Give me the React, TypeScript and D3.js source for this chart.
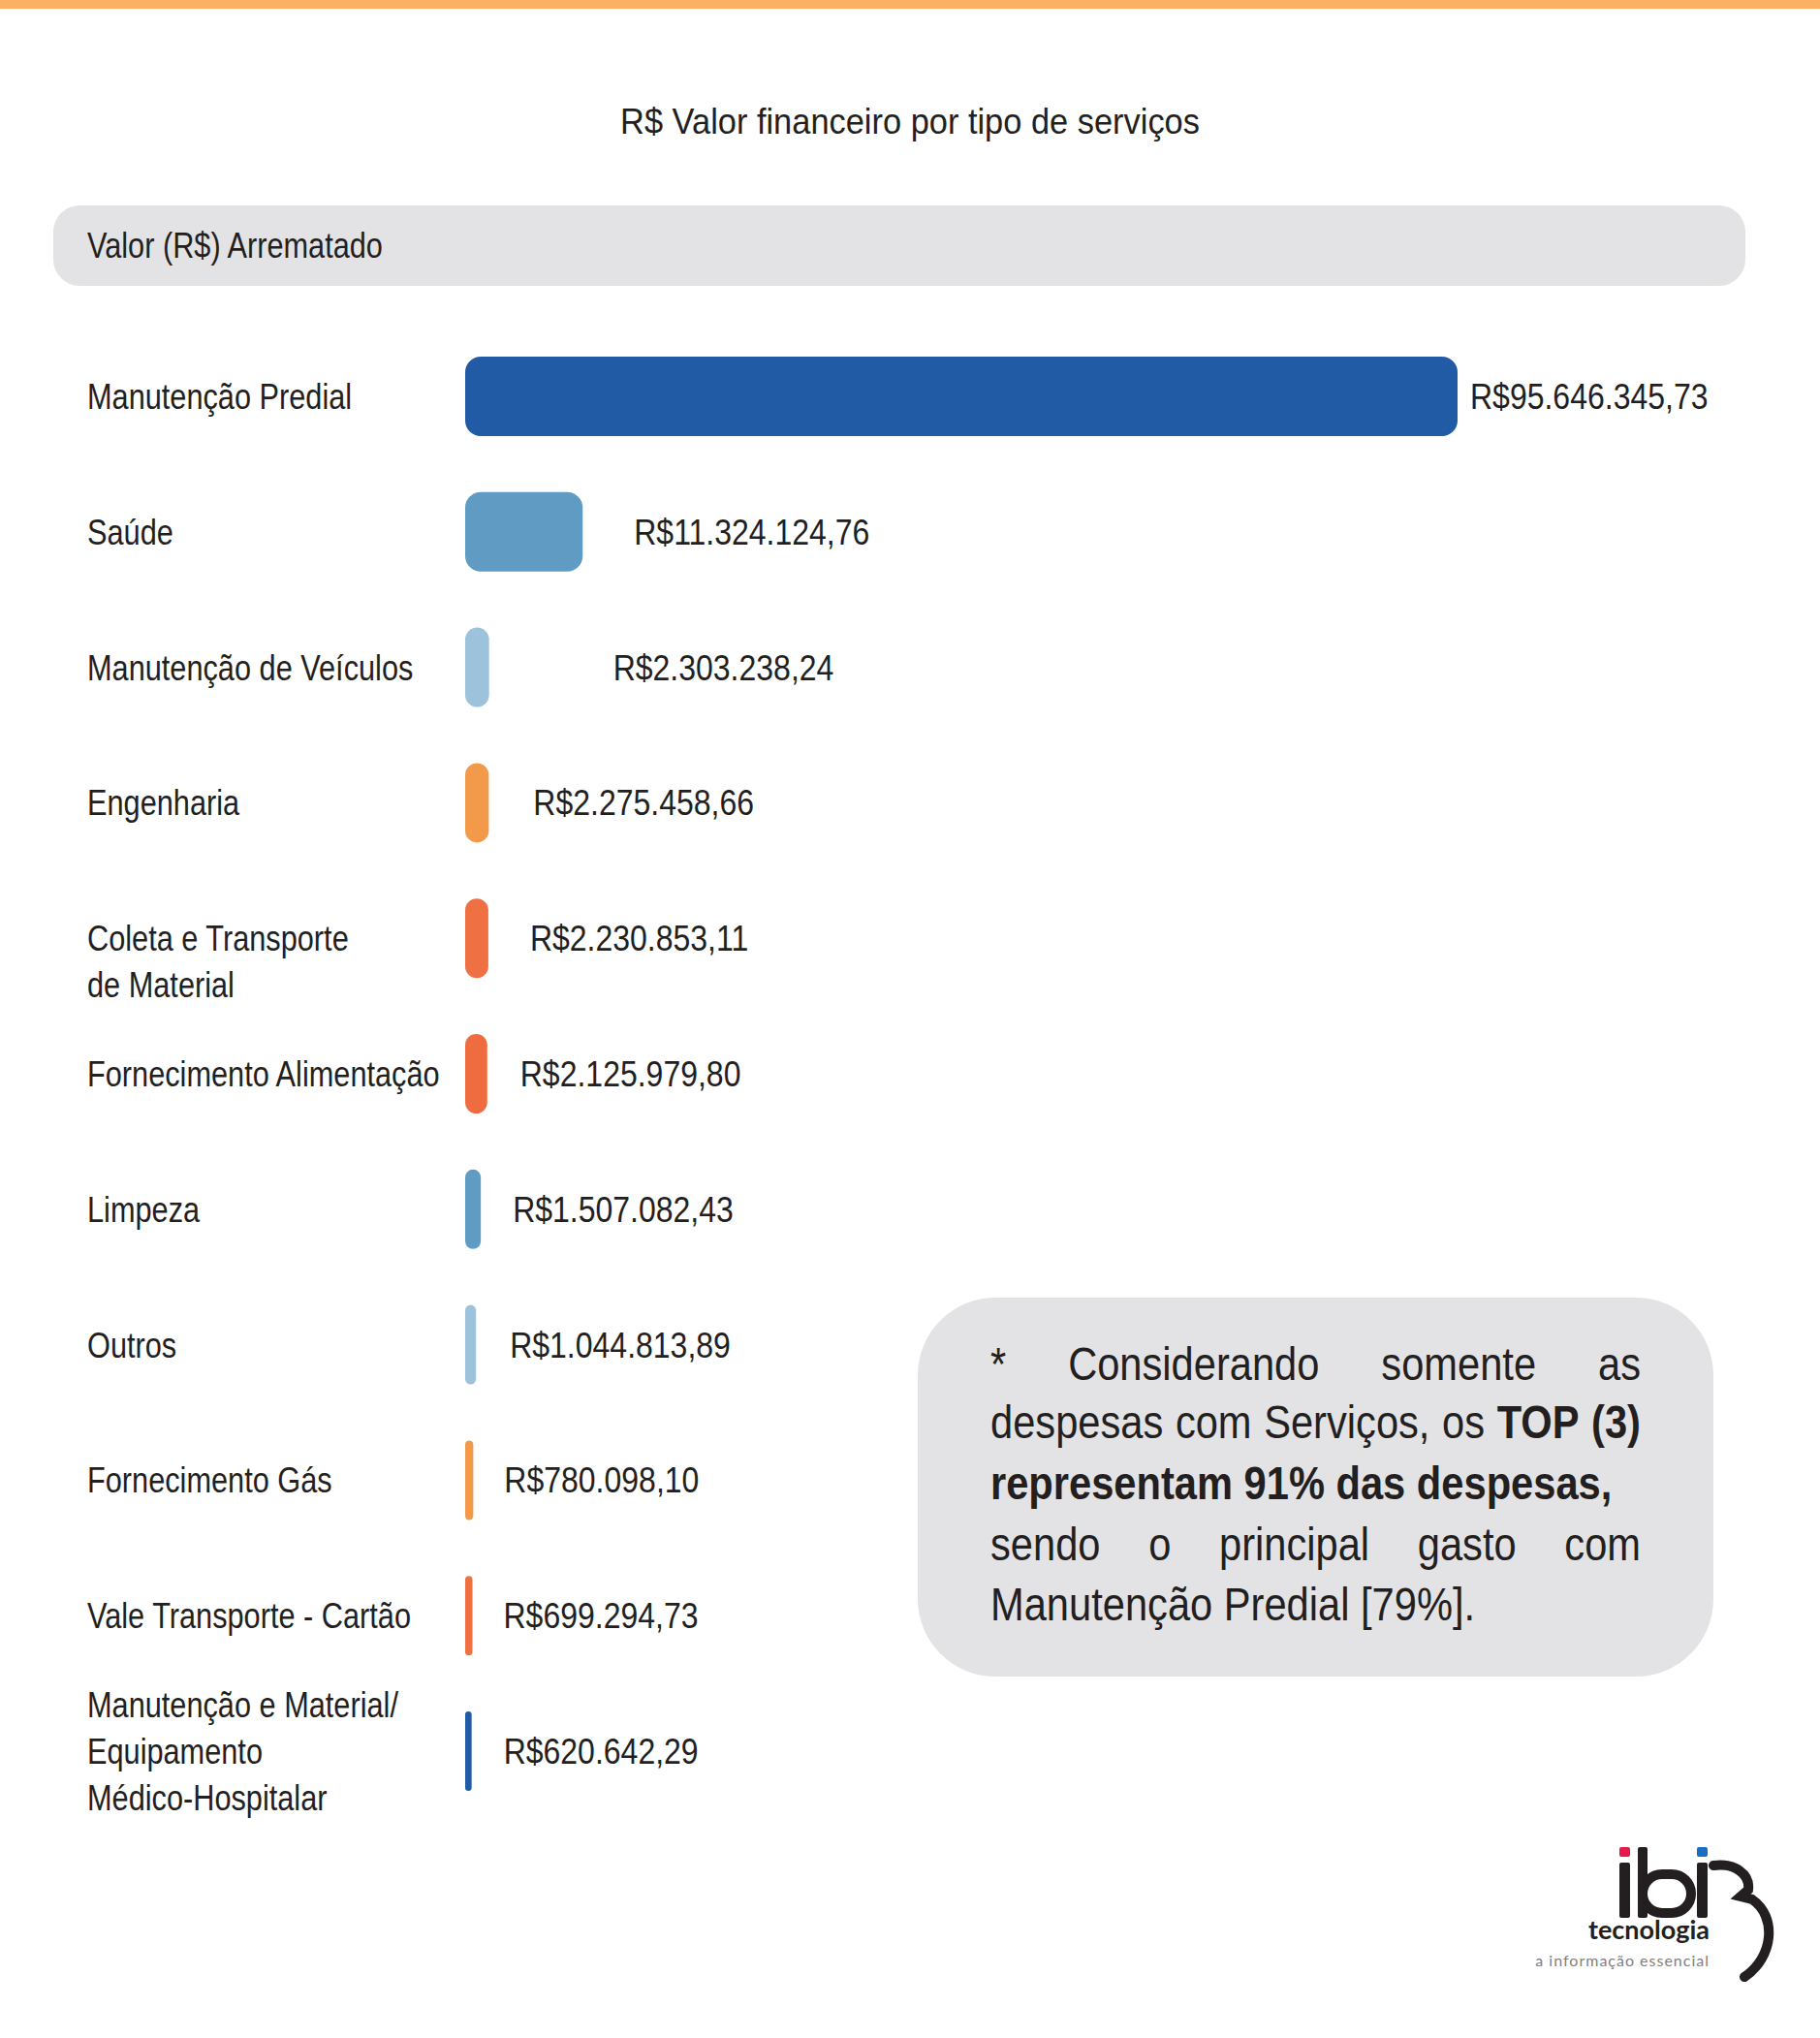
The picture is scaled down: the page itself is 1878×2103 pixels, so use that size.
import React, { useEffect, useRef } from "react";
import * as d3 from "d3";

const chartTitle = "R$ Valor financeiro por tipo de serviços";
const headerLabel = "Valor (R$) Arrematado";

const categories = [
  "Manutenção Predial",
  "Saúde",
  "Manutenção de Veículos",
  "Engenharia",
  "Coleta e Transporte\nde Material",
  "Fornecimento Alimentação",
  "Limpeza",
  "Outros",
  "Fornecimento Gás",
  "Vale Transporte - Cartão",
  "Manutenção e Material/\nEquipamento\nMédico-Hospitalar",
];

const values = [
  95646345.73, 11324124.76, 2303238.24, 2275458.66, 2230853.11, 2125979.8,
  1507082.43, 1044813.89, 780098.1, 699294.73, 620642.29,
];

const barColors = [
  "#215AA5", "#5F9BC2", "#9DC3DC", "#F3994A", "#EF7043", "#EF6C40",
  "#5F9BC2", "#9DC3DC", "#F3994A", "#EF7043", "#215AA5",
];

// layout: gap between bar end and its value label (px)
const valueLabelGaps = [13, 53, 128, 46, 43, 34, 33, 35, 32, 32, 33];

type Word = { t: string; b?: boolean };
const noteLines: { words: Word[]; justify: boolean }[] = [
  { words: [{ t: "*" }, { t: "Considerando" }, { t: "somente" }, { t: "as" }], justify: true },
  {
    words: [{ t: "despesas" }, { t: "com" }, { t: "Serviços," }, { t: "os" }, { t: "TOP", b: true }, { t: "(3)", b: true }],
    justify: true,
  },
  { words: [{ t: "representam", b: true }, { t: "91%", b: true }, { t: "das", b: true }, { t: "despesas,", b: true }], justify: false },
  { words: [{ t: "sendo" }, { t: "o" }, { t: "principal" }, { t: "gasto" }, { t: "com" }], justify: true },
  { words: [{ t: "Manutenção" }, { t: "Predial" }, { t: "[79%]." }], justify: false },
];

const W = 1878;
const H = 2103;
const FONT = "'Liberation Sans', Arial, Helvetica, sans-serif";
const INK = "#231F20";
const SX = 0.83; // horizontal squeeze to mimic condensed face
const SX_VAL = 0.865;
const SX_TITLE = 0.93;
const SX_NOTE = 0.85;

export default function App() {
  const ref = useRef<SVGSVGElement>(null);

  useEffect(() => {
    const svg = d3.select(ref.current);
    svg.selectAll("*").remove();

    const txt = (
      parent: any,
      s: string,
      x: number,
      y: number,
      size: number,
      sx = SX,
      anchor = "start",
      weight = "normal",
      fill = INK
    ) =>
      parent
        .append("text")
        .attr("transform", `translate(${x},${y}) scale(${sx},1)`)
        .attr("text-anchor", anchor)
        .attr("font-family", FONT)
        .attr("font-size", size)
        .attr("font-weight", weight)
        .attr("fill", fill)
        .text(s);

    svg.append("rect").attr("width", W).attr("height", H).attr("fill", "#fff");
    // top stripe
    svg.append("rect").attr("x", 0).attr("y", 0).attr("width", W).attr("height", 9).attr("fill", "#FCB064");

    // title
    txt(svg, chartTitle, 939, 138, 37, SX_TITLE, "middle");

    // header band
    svg.append("rect").attr("x", 55).attr("y", 212).attr("width", 1746).attr("height", 83).attr("rx", 27).attr("fill", "#E3E3E5");
    txt(svg, headerLabel, 90, 266, 37);

    // scales
    const x = d3.scaleLinear().domain([0, d3.max(values) as number]).range([0, 1024]);
    const y = d3.scalePoint<string>().domain(categories).range([409, 1807]);
    const x0 = 480;
    const barH = 82;

    const locale = d3.formatLocale({ decimal: ",", thousands: ".", grouping: [3], currency: ["R$", ""] });
    const fmt = locale.format("$,.2f");

    const rows = svg.selectAll("g.row").data(categories).enter().append("g").attr("class", "row");
    rows.each(function (cat: string, i: number) {
      const g = d3.select(this);
      const cy = y(cat) as number;
      const w = Math.max(2, x(values[i]));
      const r = Math.min(16, w / 2);
      g.append("rect")
        .attr("x", x0)
        .attr("y", cy - barH / 2)
        .attr("width", w)
        .attr("height", barH)
        .attr("rx", r)
        .attr("ry", r)
        .attr("fill", barColors[i]);
      // category label
      const lines = cat.split("\n");
      const lh = 48;
      const start = -Math.floor((lines.length - 1) / 2) * lh;
      lines.forEach((ln, k) => txt(g, ln, 90, cy + start + k * lh + 13, 37));
      // value label
      txt(g, fmt(values[i]), x0 + w + valueLabelGaps[i], cy + 13, 37, SX_VAL);
    });

    // annotation box
    svg.append("rect").attr("x", 947).attr("y", 1339).attr("width", 821).attr("height", 391).attr("rx", 80).attr("fill", "#E3E3E5");
    const noteX0 = 1022;
    const noteX1 = 1693;
    const noteBase = [1424, 1484, 1547, 1610, 1672];
    const noteSize = 49;
    const ng = svg.append("g");
    const probe = txt(ng, "a a", 0, 0, noteSize, SX_NOTE);
    const probe2 = txt(ng, "aa", 0, 0, noteSize, SX_NOTE);
    const spaceW =
      ((probe.node() as SVGTextElement).getComputedTextLength() - (probe2.node() as SVGTextElement).getComputedTextLength()) * SX_NOTE;
    probe.remove();
    probe2.remove();
    noteLines.forEach((line, li) => {
      const els = line.words.map((wd) => txt(ng, wd.t, 0, noteBase[li], noteSize, SX_NOTE, "start", wd.b ? "bold" : "normal"));
      const widths = els.map((e) => (e.node() as SVGTextElement).getComputedTextLength() * SX_NOTE);
      const total = d3.sum(widths);
      const gap = line.justify && els.length > 1 ? (noteX1 - noteX0 - total) / (els.length - 1) : spaceW;
      let cx = noteX0;
      els.forEach((e, k) => {
        e.attr("transform", `translate(${cx},${noteBase[li]}) scale(${SX_NOTE},1)`);
        cx += widths[k] + gap;
      });
    });

    // logo
    const lg = svg.append("g");
    lg.append("rect").attr("x", 1671).attr("y", 1906).attr("width", 11).attr("height", 10).attr("rx", 2).attr("fill", "#E8194A");
    lg.append("rect").attr("x", 1751).attr("y", 1906).attr("width", 11).attr("height", 10).attr("rx", 2).attr("fill", "#1A6DC0");
    lg.append("rect").attr("x", 1671).attr("y", 1922).attr("width", 11).attr("height", 57).attr("rx", 2).attr("fill", INK);
    lg.append("rect").attr("x", 1690).attr("y", 1906).attr("width", 10).attr("height", 73).attr("rx", 2).attr("fill", INK);
    lg.append("rect").attr("x", 1695).attr("y", 1934).attr("width", 50).attr("height", 40).attr("rx", 20).attr("fill", "none").attr("stroke", INK).attr("stroke-width", 10);
    lg.append("rect").attr("x", 1751).attr("y", 1922).attr("width", 11).attr("height", 57).attr("rx", 2).attr("fill", INK);
    lg.append("path")
      .attr("d", "M1768,1925 C1790,1922 1806,1934 1804,1950 L1796,1957 L1808,1960 C1834,1978 1830,2020 1800,2040")
      .attr("fill", "none")
      .attr("stroke", INK)
      .attr("stroke-width", 10)
      .attr("stroke-linecap", "round");
    lg.append("text").attr("x", 1764).attr("y", 2001).attr("text-anchor", "end").attr("font-family", "Lato, 'Open Sans', sans-serif").attr("font-weight", "bold").attr("font-size", 27).attr("fill", INK).text("tecnologia");
    lg.append("text").attr("x", 1764).attr("y", 2029).attr("text-anchor", "end").attr("font-family", "Lato, 'Open Sans', sans-serif").attr("font-size", 16).attr("letter-spacing", 1).attr("fill", "#808080").text("a informação essencial");
  }, []);

  return (
    <div style={{ position: "absolute", left: 0, top: 0 }}>
      <svg ref={ref} width={W} height={H} />
    </div>
  );
}
